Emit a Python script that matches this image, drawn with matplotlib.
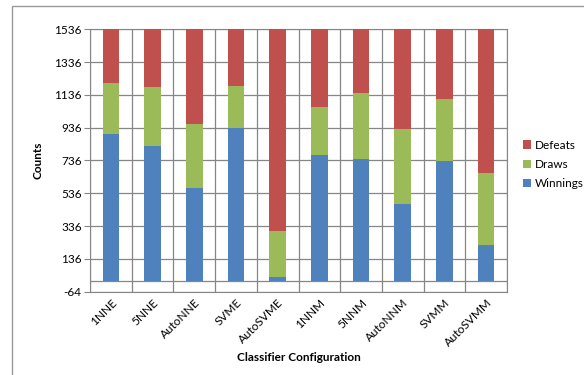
# Stacked counts per classifier configuration
import matplotlib.pyplot as plt
from matplotlib.patches import Rectangle
import numpy as np

configs = ['1NNE', '5NNE', 'AutoNNE', 'SVME', 'AutoSVME',
           '1NNM', '5NNM', 'AutoNNM', 'SVMM', 'AutoSVMM']
winnings = [898, 824, 568, 936, 27, 770, 745, 473, 733, 221]
draws = [312, 358, 389, 254, 281, 290, 401, 453, 378, 441]
total = 1536
defeats = [total - w - d for w, d in zip(winnings, draws)]

yticks = list(range(-64, 1537, 200))

plt.rcParams['font.family'] = ['Lato', 'DejaVu Sans']

fig = plt.figure(figsize=(5.84, 3.75), dpi=100)
ax = fig.add_axes([90/584, 1-291.7/375, 417/584, 262.4/375])

grey = '#868686'
x = np.arange(len(configs))
w = 0.4
ax.bar(x, winnings, w, color='#4F81BD', label='Winnings', zorder=3)
ax.bar(x, draws, w, bottom=winnings, color='#9BBB59', label='Draws', zorder=3)
bot = np.array(winnings) + np.array(draws)
ax.bar(x, defeats, w, bottom=bot, color='#C0504D', label='Defeats', zorder=3)

ax.set_xlim(-0.5, len(configs) - 0.5)
ax.set_ylim(-64, 1536)
ax.set_yticks(yticks)
ax.set_yticklabels([str(v) for v in yticks], fontsize=8.5)
ax.set_xticks(x)
ax.set_xticklabels(configs, rotation=45, ha='right', rotation_mode='anchor', fontsize=8.5)
ax.tick_params(axis='x', length=0, pad=4)
ax.tick_params(axis='y', length=4, color=grey, pad=2)

# grid lines
for v in yticks:
    ax.axhline(v, color=grey, lw=0.9, zorder=1)
ax.axhline(0, color=grey, lw=0.9, zorder=1)
for b in np.arange(-0.5, len(configs), 1.0):
    ax.axvline(b, color=grey, lw=0.9, zorder=1)
for s in ax.spines.values():
    s.set_color(grey)

ax.set_ylabel('Counts', fontsize=8.5, fontweight='bold', labelpad=8)
ax.set_xlabel('Classifier Configuration', fontsize=8.5, fontweight='bold', labelpad=2)

h, l = ax.get_legend_handles_labels()
ax.legend(h[::-1], l[::-1], loc='center left', bbox_to_anchor=(1.03, 0.485),
          frameon=False, fontsize=8.5, handlelength=0.7, handleheight=0.7,
          handletextpad=0.3, labelspacing=0.7, borderpad=0.1, borderaxespad=0.2)

# chart border
fig.patches.append(Rectangle((12/584, -0.1), 1.0, 1 - 6/375 + 0.1,
                             transform=fig.transFigure, fill=False,
                             edgecolor='#999999', lw=1.0))

fig.savefig('out.png', dpi=100)
